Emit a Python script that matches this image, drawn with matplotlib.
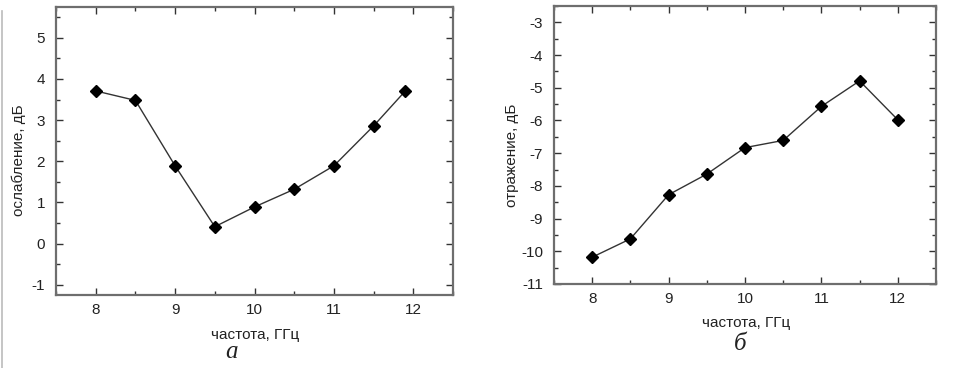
import matplotlib
matplotlib.use("Agg")
import matplotlib.pyplot as plt
from matplotlib.ticker import MultipleLocator
from matplotlib.lines import Line2D

plt.rcParams['font.family'] = ['Liberation Sans', 'DejaVu Sans']

# Panel a: attenuation
freq_a = [8.0, 8.5, 9.0, 9.5, 10.0, 10.5, 11.0, 11.5, 11.9]
atten_db = [3.71, 3.48, 1.89, 0.41, 0.89, 1.32, 1.89, 2.86, 3.71]

# Panel б: reflection
freq_b = [8.0, 8.5, 9.0, 9.5, 10.0, 10.5, 11.0, 11.5, 12.0]
refl_db = [-10.18, -9.62, -8.27, -7.64, -6.83, -6.61, -5.57, -4.79, -5.98]

xticks = [8, 9, 10, 11, 12]
yticks_a = [-1, 0, 1, 2, 3, 4, 5]
yticks_b = [-11, -10, -9, -8, -7, -6, -5, -4, -3]

fig = plt.figure(figsize=(9.6, 3.68), dpi=100)
ax1 = fig.add_axes([56/960, 1-295/368, 397/960, 288/368])
ax2 = fig.add_axes([554/960, 1-284/368, 382/960, 278/368])

spine_col = '#6e6e6e'
for ax, x, y, yt, ylim in [(ax1, freq_a, atten_db, yticks_a, (-1.25, 5.75)),
                            (ax2, freq_b, refl_db, yticks_b, (-11, -2.5))]:
    ax.plot(x, y, color='#333333', lw=1.0, marker='D', ms=6.5,
            mfc='black', mec='black')
    ax.set_xlim(7.5, 12.5)
    ax.set_ylim(*ylim)
    ax.set_xticks(xticks)
    ax.set_yticks(yt)
    ax.set_xticklabels([str(v) for v in xticks])
    ax.set_yticklabels([str(v) for v in yt])
    ax.xaxis.set_minor_locator(MultipleLocator(0.5))
    ax.yaxis.set_minor_locator(MultipleLocator(0.5))
    ax.tick_params(which='both', direction='in', top=True, right=True,
                   colors='#333333', labelcolor='#222222', labelsize=11)
    ax.tick_params(which='major', length=5, width=1)
    ax.tick_params(which='minor', length=3, width=1)
    ax.tick_params(axis='y', pad=8)
    ax.tick_params(axis='x', pad=6)
    for s in ax.spines.values():
        s.set_color(spine_col)
        s.set_linewidth(1.6)

ax1.set_ylabel('ослабление, дБ', fontsize=11, color='#222222')
ax1.yaxis.set_label_coords((26-56)/397, (295-160)/288)
ax2.set_ylabel('отражение, дБ', fontsize=11, color='#222222')
ax2.yaxis.set_label_coords((519-554)/382, (284-155)/278)

fig.text(255/960, 1-335/368, 'частота, ГГц', ha='center', va='center',
         fontsize=11, color='#222222')
fig.text(746/960, 1-323/368, 'частота, ГГц', ha='center', va='center',
         fontsize=11, color='#222222')
fig.text(232/960, 1-352/368, 'а', ha='center', va='center', fontsize=18,
         family=['Liberation Serif', 'DejaVu Serif'], style='italic', color='#222222')
fig.text(740/960, 1-344/368, 'б', ha='center', va='center', fontsize=18,
         family=['Liberation Serif', 'DejaVu Serif'], style='italic', color='#222222')

fig.add_artist(Line2D([1.5/960, 1.5/960], [0.0, 0.97], transform=fig.transFigure,
                      color='#bbbbbb', lw=1.2))

fig.savefig('out.png', dpi=100)
